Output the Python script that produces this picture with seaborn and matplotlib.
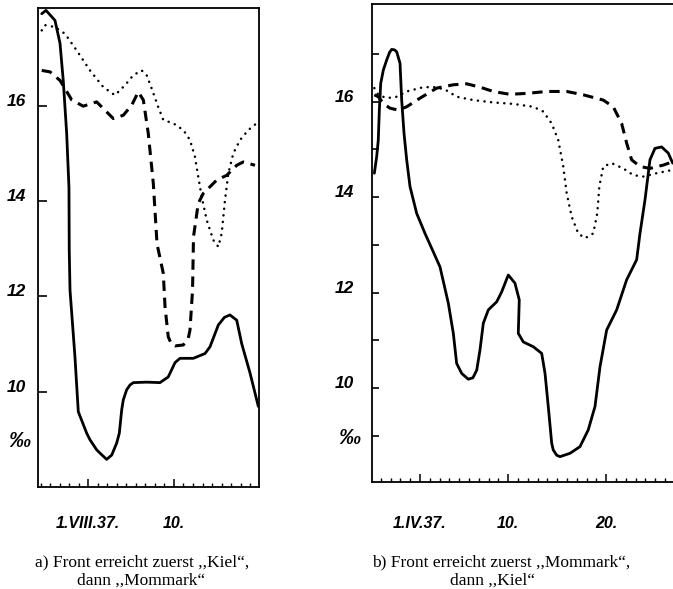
import numpy as np
import pandas as pd
import matplotlib
matplotlib.use("Agg")
import matplotlib.pyplot as plt
import matplotlib.transforms as mtransforms
from matplotlib.ticker import FixedLocator
import seaborn as sns

# ---------------- data (days since start of month, salinity in per mille) -------------
# Panel a) : 1.VIII.37
a_solid_day = [-3.89, -3.44, -2.50, -1.97, -1.63, -1.27, -1.03, -1.00, -0.92, -0.40, -0.05, 0.83,
               1.18, 1.88, 2.23, 2.93, 3.46, 3.98, 4.26, 4.51, 4.68, 5.03, 5.38, 5.73, 7.13, 8.53,
               9.40, 10.11, 10.63, 12.03, 13.26, 13.78, 14.66, 15.30, 15.88, 16.59, 17.11, 17.99,
               18.86]
a_solid_val = [17.93, 18.00, 17.79, 17.31, 16.53, 15.42, 14.29, 12.97, 12.13, 10.73, 9.58, 9.13,
               8.99, 8.78, 8.71, 8.58, 8.67, 8.92, 9.13, 9.62, 9.83, 10.04, 10.14, 10.19, 10.20,
               10.19, 10.31, 10.61, 10.70, 10.70, 10.80, 10.94, 11.40, 11.56, 11.61, 11.50, 11.01,
               10.39, 9.69]

a_dash_day = [-3.89, -3.02, -1.97, -1.45, -0.74, 0.47, 1.88, 2.58, 3.63, 4.68, 5.56, 6.25, 6.78,
              7.30, 7.83, 8.22, 8.88, 9.06, 9.40, 9.75, 10.11, 10.98, 11.50, 11.68, 11.95, 12.05,
              12.55, 13.08, 14.49, 15.54, 16.59, 17.28, 18.51]
a_dash_val = [16.74, 16.71, 16.53, 16.36, 16.12, 15.99, 16.08, 15.94, 15.73, 15.80, 16.01, 16.29,
              16.12, 15.42, 14.37, 13.10, 12.48, 11.78, 11.15, 10.99, 10.96, 10.98, 11.12, 11.29,
              12.13, 13.25, 13.95, 14.16, 14.44, 14.54, 14.75, 14.82, 14.75]

a_dot_day = [-3.89, -3.55, -2.50, -1.45, -0.22, 1.18, 2.58, 3.80, 4.86, 5.73, 6.61, 7.13, 7.66,
             8.35, 8.88, 9.93, 10.98, 11.68, 12.20, 12.55, 12.91, 13.44, 14.13, 14.66, 15.01,
             15.36, 15.71, 16.23, 16.94, 17.81, 18.86]
a_dot_val = [17.58, 17.69, 17.65, 17.51, 17.16, 16.74, 16.39, 16.22, 16.43, 16.64, 16.74, 16.64,
             16.36, 15.97, 15.70, 15.63, 15.49, 15.28, 14.93, 14.51, 14.09, 13.60, 13.18, 13.04,
             13.32, 14.02, 14.58, 15.00, 15.28, 15.49, 15.66]

# Panel b) : 1.IV.37
b_solid_day = [-3.66, -3.42, -3.26, -3.15, -3.01, -2.74, -2.40, -2.10, -1.89, -1.60, -1.38, -1.04,
               -0.87, -0.63, -0.36, -0.02, 0.66, 1.51, 2.19, 3.04, 3.89, 4.40, 4.74, 5.26, 5.93,
               6.40, 6.79, 7.12, 7.46, 7.97, 8.83, 9.34, 10.01, 10.69, 11.13, 11.03, 11.54, 12.56,
               13.42, 13.76, 14.09, 14.44, 14.60, 14.95, 15.29, 16.31, 17.33, 18.17, 18.86, 19.37,
               20.05, 21.07, 22.09, 23.11, 23.45, 23.96, 24.47, 24.98, 25.66, 26.34, 26.79]
b_solid_val = [14.50, 14.85, 15.19, 15.82, 16.38, 16.66, 16.87, 17.03, 17.09, 17.08, 17.04, 16.80,
               16.03, 15.33, 14.78, 14.22, 13.66, 13.24, 12.93, 12.54, 11.78, 11.15, 10.52, 10.31,
               10.19, 10.22, 10.38, 10.80, 11.36, 11.64, 11.81, 12.02, 12.37, 12.20, 11.85, 11.15,
               10.97, 10.87, 10.73, 10.31, 9.62, 8.85, 8.71, 8.60, 8.57, 8.64, 8.78, 9.13, 9.62,
               10.45, 11.22, 11.64, 12.27, 12.69, 13.24, 13.94, 14.78, 15.02, 15.05, 14.92, 14.71]

b_dash_day = [-3.66, -3.26, -2.74, -2.06, -1.21, -0.36, 1.00, 2.70, 4.40, 5.77, 7.12, 8.48, 10.18,
              11.89, 13.93, 15.97, 17.66, 19.70, 20.72, 21.58, 22.09, 22.60, 23.45, 24.47, 25.83,
              26.79]
b_dash_val = [16.14, 16.10, 15.96, 15.86, 15.82, 15.89, 16.07, 16.28, 16.35, 16.37, 16.30, 16.21,
              16.15, 16.17, 16.21, 16.21, 16.14, 16.03, 15.89, 15.54, 15.13, 14.78, 14.64, 14.60,
              14.67, 14.74]

b_dot_day = [-3.66, -3.26, -2.40, -1.38, -0.36, 1.34, 2.70, 3.72, 4.74, 6.44, 8.48, 10.52, 12.56,
             13.58, 14.44, 15.11, 15.62, 15.97, 16.48, 17.15, 17.84, 18.68, 19.09, 19.30, 19.70,
             20.56, 21.74, 22.77, 23.79, 25.15, 26.79]
b_dot_val = [16.28, 16.14, 16.07, 16.10, 16.21, 16.30, 16.30, 16.23, 16.10, 16.03, 15.98, 15.95,
             15.89, 15.79, 15.54, 15.19, 14.64, 14.08, 13.59, 13.24, 13.14, 13.24, 13.66, 14.22,
             14.64, 14.71, 14.60, 14.46, 14.43, 14.50, 14.57]

a_xtick_pos = [1, 10]
a_xtick_lab = ["1.VIII.37.", "10."]
b_xtick_pos = [1, 10, 20]
b_xtick_lab = ["1.IV.37.", "10.", "20."]
y_label_vals = [10, 12, 14, 16]
a_caption = ["a) Front erreicht zuerst ,,Kiel\u201c,", "dann ,,Mommark\u201c"]
b_caption = ["b) Front erreicht zuerst ,,Mommark\u201c,", "dann ,,Kiel\u201c"]

# ---------------- style ----------------
sns.set_style("white")
plt.rcParams["font.family"] = ["Liberation Sans Narrow", "Liberation Sans", "DejaVu Sans"]
plt.rcParams["axes.edgecolor"] = "black"
plt.rcParams["text.color"] = "black"
plt.rcParams["xtick.color"] = "black"
plt.rcParams["ytick.color"] = "black"
plt.rcParams["axes.labelcolor"] = "black"

W, H = 673, 589
fig = plt.figure(figsize=(W / 100, H / 100), dpi=100)

def fig_rect(x0, y0, x1, y1):
    return [x0 / W, 1 - y1 / H, (x1 - x0) / W, (y1 - y0) / H]

axL = fig.add_axes(fig_rect(38.3, 8, 259, 487))
axR = fig.add_axes(fig_rect(371.7, 4, 673, 481.5))

solid_kw = dict(color="black", lw=2.0, solid_capstyle="round", solid_joinstyle="round")
dash_kw = dict(color="black", lw=2.2, linestyle=(0, (3.4, 2.2)), dash_capstyle="butt")
dot_kw = dict(color="black", lw=1.8, linestyle=(0, (0.05, 2.6)), dash_capstyle="round")

def draw(ax, sd, sv, dd, dv, od, ov):
    sns.lineplot(x=sd, y=sv, sort=False, estimator=None, ax=ax, **solid_kw)
    sns.lineplot(x=dd, y=dv, sort=False, estimator=None, ax=ax, **dash_kw)
    sns.lineplot(x=od, y=ov, sort=False, estimator=None, ax=ax, **dot_kw)

draw(axL, a_solid_day, a_solid_val, a_dash_day, a_dash_val, a_dot_day, a_dot_val)
draw(axR, b_solid_day, b_solid_val, b_dash_day, b_dash_val, b_dot_day, b_dot_val)

tickfont = dict(fontsize=11.5, fontweight="bold", fontstyle="italic", color="black")

for ax in (axL, axR):
    ax.set_xlabel("")
    ax.set_ylabel("")
    ax.grid(False)
    for s in ax.spines.values():
        s.set_linewidth(1.3)
        s.set_color("black")

# left panel
axL.set_xlim(-4.25, 18.93)
axL.set_ylim(8.0, 18.05)
axL.set_xticks(a_xtick_pos)
axL.set_xticklabels(a_xtick_lab, **tickfont)
axL.xaxis.set_minor_locator(FixedLocator(list(range(-4, 19))))
axL.set_yticks(y_label_vals)
axL.set_yticklabels([str(v) for v in y_label_vals], **dict(tickfont, fontsize=12.5))
axL.tick_params(axis="x", which="major", bottom=True, direction="in", length=5.5, width=1.1, pad=21)
axL.tick_params(axis="x", which="minor", bottom=True, direction="in", length=3, width=1.0)
axL.tick_params(axis="y", which="major", left=True, direction="in", length=6.5, width=1.2, pad=9)

# right panel
axR.set_xlim(-3.93, 26.82)
axR.set_ylim(8.05, 18.04)
axR.set_xticks(b_xtick_pos)
axR.set_xticklabels(b_xtick_lab, **tickfont)
axR.xaxis.set_minor_locator(FixedLocator(list(range(-3, 27))))
ytk = list(range(9, 18))
axR.set_yticks(ytk)
axR.set_yticklabels([str(v) if v in y_label_vals else "" for v in ytk], **dict(tickfont, fontsize=12.5))
axR.tick_params(axis="x", which="major", bottom=True, direction="in", length=5.5, width=1.1, pad=25)
axR.tick_params(axis="x", which="minor", bottom=True, direction="in", length=3, width=1.0)
axR.tick_params(axis="y", which="major", left=True, direction="in", length=5, width=1.2, pad=13)
axR.spines["right"].set_visible(False)

# y labels sit a little above their ticks
off = mtransforms.ScaledTranslation(0, 0.06, fig.dpi_scale_trans)
for ax in (axL, axR):
    for lab in ax.get_yticklabels():
        lab.set_transform(lab.get_transform() + off)

# per-mille unit labels
pm_font = dict(tickfont, fontsize=16)
axL.text(-0.085, 8.95, "\u2030", transform=mtransforms.blended_transform_factory(axL.transAxes, axL.transData),
         ha="center", va="center", **pm_font)
axR.text(-0.075, 8.96, "\u2030", transform=mtransforms.blended_transform_factory(axR.transAxes, axR.transData),
         ha="center", va="center", **pm_font)

# captions
capfont = dict(fontsize=12.5, family=["Liberation Serif", "DejaVu Serif"], ha="center", va="baseline",
               color="black")
fig.text(142 / W, 1 - 566.7 / H, a_caption[0], **capfont)
fig.text(141 / W, 1 - 585 / H, a_caption[1], **capfont)
fig.text(501 / W, 1 - 566.7 / H, b_caption[0], **capfont)
fig.text(493 / W, 1 - 585 / H, b_caption[1], **capfont)

fig.savefig("out.png", dpi=100)
